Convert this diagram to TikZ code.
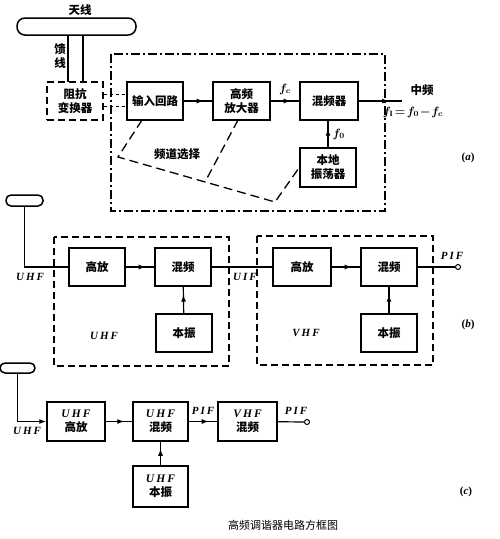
\documentclass[tikz,border=0pt]{standalone}
\usepackage{fontspec}
\setmainfont{Liberation Serif}
\newfontfamily\cjk{Noto Sans CJK SC}
\usetikzlibrary{decorations.markings,arrows.meta,calc}
\newcommand\lat{\rmfamily\bfseries\itshape\addfontfeature{LetterSpace=18}}
\newcommand\mkbox[7][]{\node[box,#1,minimum width={(#5-#3)*1pt},minimum height={(#6-#4)*1pt}] (#2) at ({(#3+#5)/2},{(#4+#6)/2}) {#7};}
\tikzset{
  box/.style={draw,line width=1.5pt,inner sep=0pt,align=center,font=\cjk\bfseries\fontsize{11.5}{14}\selectfont},
  conn/.style={line width=1.2pt},
  arr/.style={conn,postaction={decorate},decoration={markings,mark=at position 0.7 with {\arrow{Latex[length=7pt,width=5pt]}}}},
  dashbox/.style={line width=1.4pt,dash pattern=on 7pt off 4pt},
  dashdotbox/.style={line width=1.4pt,dash pattern=on 9pt off 3pt on 2pt off 3pt},
  fsel/.style={line width=1.3pt,dash pattern=on 9pt off 5pt},
  antbar/.style={draw,line width=1.5pt,rounded corners=5pt,inner sep=0pt},
  port/.style={draw,circle,line width=1pt,inner sep=0pt,minimum size=5pt,fill=white},
  lab/.style={font=\lat\fontsize{11}{13}\selectfont,inner sep=0pt},
  plab/.style={font=\rmfamily\bfseries\fontsize{11}{13}\selectfont,inner sep=0pt},
  cn/.style={font=\cjk\bfseries\fontsize{11.5}{14}\selectfont,inner sep=0pt,align=center},
  ml/.style={font=\boldmath\fontsize{12}{14}\selectfont,inner sep=0pt}
}
\begin{document}
\begin{tikzpicture}[x=1pt,y=-1pt]
\useasboundingbox (0,0) rectangle (500,539);
\fill[white] (0,0) rectangle (500,539);
% ---------------- (a)
\node[antbar,rounded corners=8pt,minimum width=119pt,minimum height=17pt] (ant1) at (76.5,26.5) {};
\node[cn] (tx) at (80,10) {天线};
\node[cn] (kx) at (60,56) {馈\\线};
\mkbox[dashbox]{zk}{47}{82}{103}{120}{阻抗\\变换器}
\mkbox{inp}{127}{82}{183}{120}{输入回路}
\mkbox{hf}{213}{82}{270}{120}{高频\\放大器}
\mkbox{mix}{300}{82}{358}{120}{混频器}
\mkbox{lo}{300}{148}{356}{187}{本地\\振荡器}
\coordinate (l1) at (68,82);
\coordinate (l2) at (83,82);
\draw[conn] (l1) -- (l1 |- ant1.south);
\draw[conn] (l2) -- (l2 |- ant1.south);
\draw[dashdotbox] (111,54) rectangle (385,211);
\draw[conn,line width=1pt,dashed] ([yshift=7pt]zk.east) -- ([yshift=7pt]inp.west);
\draw[conn,line width=1pt,dashed] ([yshift=-5pt]zk.east) -- ([yshift=-5pt]inp.west);
\draw[arr] (inp) -- (hf);
\draw[arr] (hf) -- (mix) node[ml,midway,above=6pt] (fc) {$f_c$};
\coordinate (out1) at (402,101);
\draw[arr] (mix.east) -- (out1);
\node[cn] (zp) at (422,90) {中频};
\node[ml] (fi) at (413,112) {$f_{\rm I}\!=\!f_0\!-\!f_c$};
\draw[arr] (lo.north) -- (lo.north |- mix.south) node[ml,midway,right=4pt] (fo) {$f_0$};
\coordinate (c1) at (142,120);
\coordinate (c2) at (118,157);
\coordinate (c3) at (275,202);
\coordinate (c5) at (238,120);
\coordinate (c6) at (205,182);
\draw[fsel] (c1) -- (c2) -- (c3) -- (lo.west);
\draw[fsel] (c5) -- (c6);
\node[cn] (pd) at (177,154) {频道选择};
\node[plab] (la) at (468,158) {(\textit{a})};
% ---------------- (b)
\node[antbar,minimum width=37pt,minimum height=11pt] (ant2) at (24.5,200.5) {};
\draw[dashbox] (54,237) rectangle (229,366);
\draw[dashbox] (257,236) rectangle (433,365);
\mkbox{ub}{69}{248}{125}{286}{高放}
\mkbox{um}{155}{248}{211}{286}{混频}
\mkbox{uo}{156}{314}{212}{352}{本振}
\mkbox{vb}{273}{248}{331}{286}{高放}
\mkbox{vm}{361}{248}{417}{286}{混频}
\mkbox{vo}{361}{314}{417}{352}{本振}
\draw[conn] (ant2.south) |- (ub.west);
\draw[arr] (ub) -- (um);
\draw[arr] (uo) -- (um);
\draw[conn] (um) -- (vb);
\draw[arr] (vb) -- (vm);
\draw[arr] (vo) -- (vm);
\node[port] (o1) at (458,267) {};
\draw[conn] (vm) -- (o1);
\node[lab] (l_uhf1) at (30,277) {UHF};
\node[lab] (l_uif) at (245,277) {UIF};
\node[lab] (l_pif1) at (452,256) {PIF};
\node[lab] (l_uhf2) at (104,336) {UHF};
\node[lab] (l_vhf2) at (306,333) {VHF};
\node[plab] (lb) at (468,325) {(\textit{b})};
% ---------------- (c)
\node[antbar,minimum width=35pt,minimum height=10pt] (ant3) at (17.5,368) {};
\mkbox{cb}{47}{402}{105}{441}{{\lat UHF}\\高放}
\mkbox{cm}{133}{402}{188}{441}{{\lat UHF}\\混频}
\mkbox{cv}{218}{402}{277}{441}{{\lat VHF}\\混频}
\mkbox{co}{133}{466}{188}{507}{{\lat UHF}\\本振}
\draw[conn,-{Latex[length=7pt,width=5pt]}] (ant3.south) |- (cb.west);
\draw[arr] (cb) -- (cm);
\draw[arr] (cm) -- (cv);
\draw[arr] (co) -- (cm);
\node[port] (o2) at (307,422) {};
\draw[conn] (cv) -- (o2);
\node[lab] (l_uhf3) at (27,431) {UHF};
\node[lab] (l_pif2) at (203,411) {PIF};
\node[lab] (l_pif3) at (296,411) {PIF};
\node[plab] (lc) at (466,492) {(\textit{c})};
\node[cn,font=\cjk\fontsize{11}{13}\selectfont] (title) at (283,525) {高频调谐器电路方框图};
\end{tikzpicture}
\end{document}
